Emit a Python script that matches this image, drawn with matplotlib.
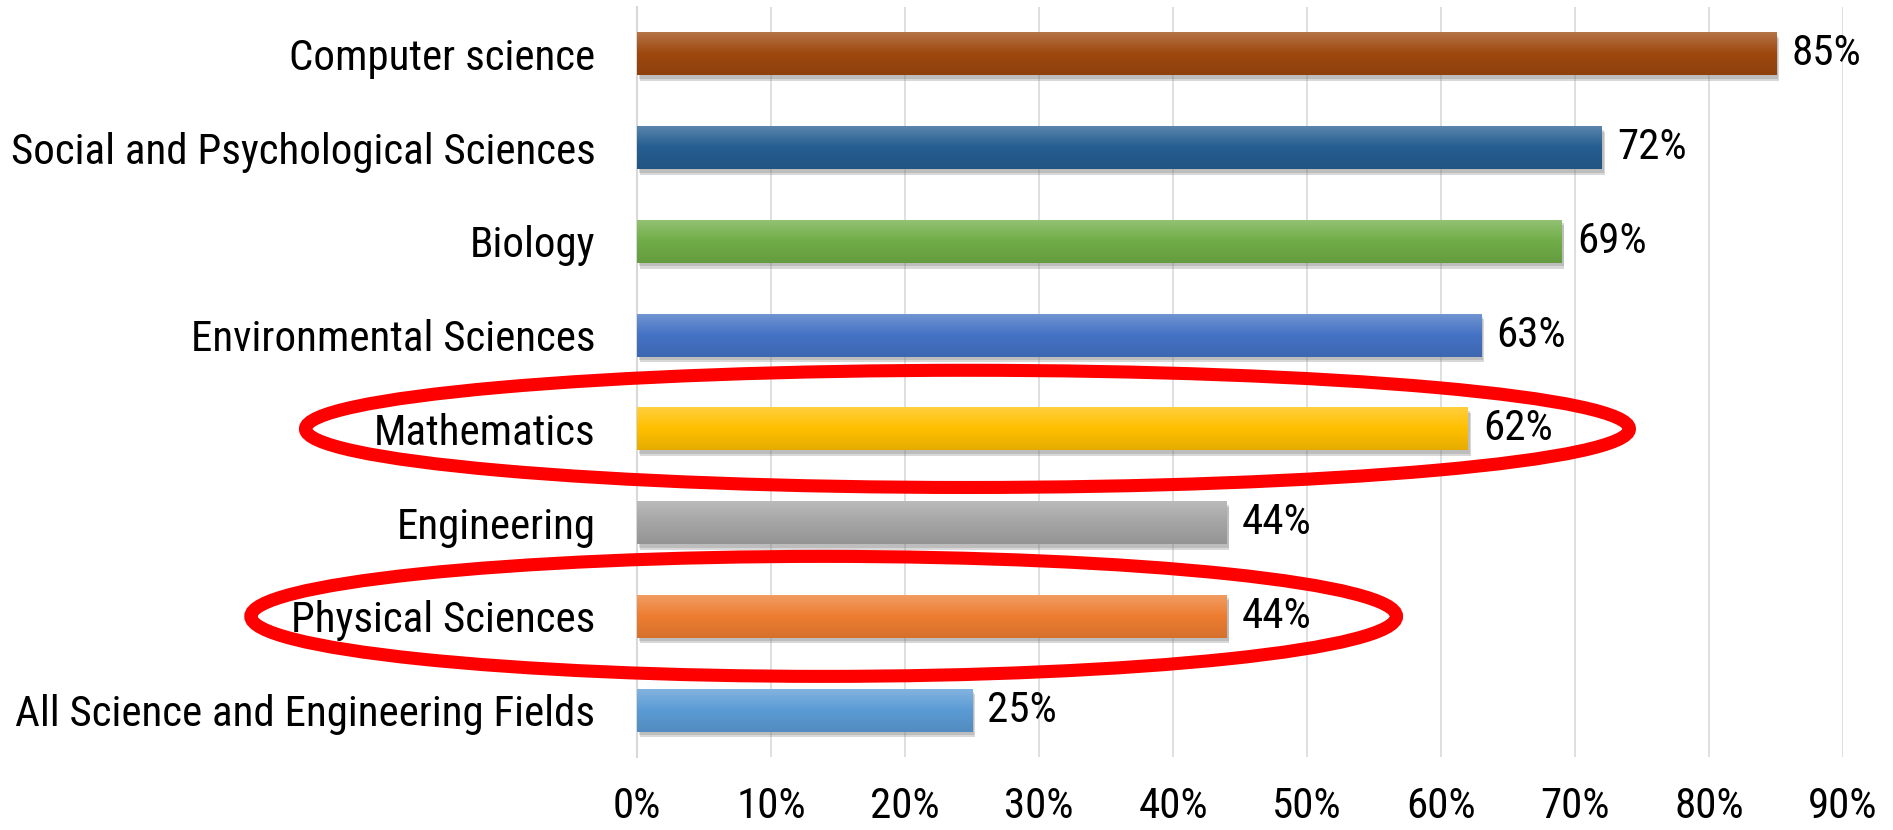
import matplotlib
matplotlib.use("Agg")
import matplotlib.pyplot as plt
import matplotlib.patheffects as pe
from matplotlib.patches import Ellipse
from matplotlib.colors import to_rgb
import numpy as np

# share of each field, top row first
fields = ["Computer science", "Social and Psychological Sciences", "Biology",
          "Environmental Sciences", "Mathematics", "Engineering",
          "Physical Sciences", "All Science and Engineering Fields"]
shares = [85, 72, 69, 63, 62, 44, 44, 25]
bar_colors = ["#9E480E", "#255E91", "#70AD47", "#4472C4",
              "#FFC000", "#A5A5A5", "#ED7D31", "#5B9BD5"]
x_ticks = [0, 10, 20, 30, 40, 50, 60, 70, 80, 90]

# fields circled in red: centre x, width, height (data units)
circled = {"Mathematics": (24.66, 98.8, 1.25),
           "Physical Sciences": (13.93, 85.5, 1.28)}

plt.rcParams["font.family"] = ["Roboto Condensed", "Archivo Narrow", "DejaVu Sans"]
FS = 31

fig = plt.figure(figsize=(18.93, 8.30), dpi=100)
ax = fig.add_axes([0.3365, 0.08795, 0.6371, 0.9036])

ypos = np.arange(len(fields))
bars = ax.barh(ypos, shares, height=0.46, color=bar_colors, zorder=3)


def gradient(base):
    # lighter at the top, a bit darker at the bottom
    c = np.array(to_rgb(base))
    top = c + (1 - c) * 0.25
    bot = c * 0.9
    t = np.linspace(0, 1, 64)[:, None]
    col = np.where(t < 0.5, top + (c - top) * (t / 0.5), c + (bot - c) * ((t - 0.5) / 0.5))
    return col[:, None, :]


for b, col in zip(bars, bar_colors):
    b.set_path_effects([pe.SimplePatchShadow(offset=(2, -4), shadow_rgbFace="#7f7f7f", alpha=0.3),
                        pe.SimplePatchShadow(offset=(1.5, -2.5), shadow_rgbFace="#7f7f7f", alpha=0.3),
                        pe.Normal()])
    x0, y0, w, h = b.get_x(), b.get_y(), b.get_width(), b.get_height()
    # y axis is inverted, so row 0 lands on the upper edge
    im = ax.imshow(gradient(col), extent=(x0, x0 + w, y0, y0 + h), origin="lower",
                   aspect="auto", zorder=4, interpolation="bilinear")
    im.set_clip_path(b)

for y, v in zip(ypos, shares):
    ax.annotate(f"{v}%", (v, y), xytext=(11, 0), textcoords="offset points",
                va="center", ha="left", fontsize=FS, color="black", zorder=5)

for name, (cx, w, h) in circled.items():
    e = Ellipse((cx, fields.index(name)), w, h, fill=False, edgecolor="#FF0000",
                linewidth=9.4, clip_on=False, zorder=6)
    ax.add_patch(e)

ax.set_xlim(0, 90)
ax.set_ylim(len(fields) - 0.5, -0.5)
ax.set_xticks(x_ticks)
ax.set_xticklabels([f"{t}%" for t in x_ticks])
ax.set_yticks(ypos)
ax.set_yticklabels(fields)
ax.tick_params(axis="y", length=0, pad=30, labelsize=FS)
ax.tick_params(axis="x", length=0, pad=21, labelsize=FS)
ax.grid(axis="x", color="#D9D9D9", linewidth=1.2, zorder=0)
ax.set_axisbelow(True)
for s in ["top", "right", "bottom"]:
    ax.spines[s].set_visible(False)
ax.spines["left"].set_color("#D9D9D9")
ax.spines["left"].set_linewidth(1.5)

fig.savefig("out.png", dpi=100)
